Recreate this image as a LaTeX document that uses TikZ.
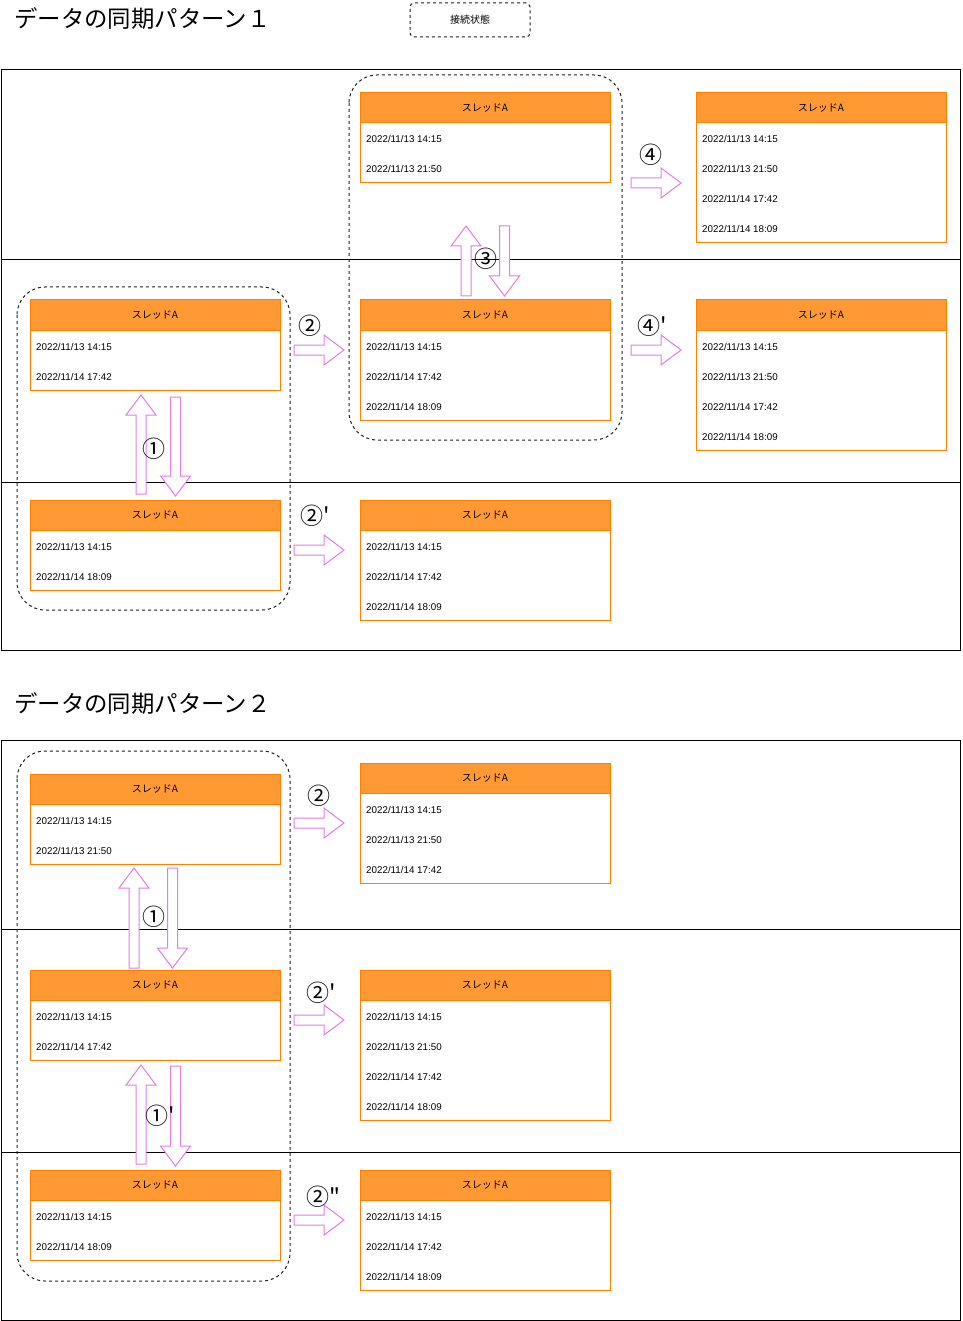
\documentclass[tikz,border=0pt]{standalone}
\usepackage{fontspec}
\setmainfont{Liberation Sans}
\newfontfamily\jpfont{Noto Sans CJK JP}
\usetikzlibrary{calc}

\definecolor{threadfill}{HTML}{FF9933}
\definecolor{threadedge}{HTML}{FF8000}
\definecolor{arrowedge}{HTML}{E27DE6}
\definecolor{groupedge}{HTML}{202020}

\tikzset{
    threadhead/.style = {draw = threadedge, fill = threadfill, line width = 1pt, minimum width = 250, minimum height = 30, inner sep = 0, outer sep = 0, font = \jpfont\fontsize{10}{12}\selectfont},
    threadbody/.style = {draw = threadedge, line width = 1pt},
    stamptext/.style = {anchor = base west, inner sep = 0, font = \fontsize{9.8}{12}\selectfont},
    framebox/.style = {draw = black, line width = 1pt},
    groupbox/.style = {draw = groupedge, line width = 1pt, dash pattern = on 3pt off 3pt, rounded corners = 28pt},
    steplabel/.style = {inner sep = 0, font = \jpfont\fontsize{23}{25}\selectfont},
    titletext/.style = {anchor = west, inner sep = 0, font = \jpfont\fontsize{23.4}{27}\selectfont},
    pics/blockarrow/.style = {code = {
        \draw[draw = arrowedge, fill = white, line width = 1pt, line join = miter] (0,-5) -- ({#1-20},-5) -- ({#1-20},-15) -- (#1,0) -- ({#1-20},15) -- ({#1-20},5) -- (0,5) -- cycle;
    }}
}

%name, top left corner, number of rows, time stamps
\newcommand{\threadtable}[4]{%
    \node[threadhead, anchor = north west] (#1) at (#2) {\raisebox{-1pt}{スレッドA}};
    \draw[threadbody] (#1.south west) rectangle ++(250,{30*#3});
    \foreach \stamp [count = \row] in {#4}
        \node[stamptext] (#1-\row) at ($(#1.south west)+(6,{30*\row-10})$) {\stamp};
}

\begin{document}
\begin{tikzpicture}[x = 1pt, y = -1pt]
    \useasboundingbox (0,0) rectangle (962,1321);

    %titles and legend
    \node[titletext] (title1) at (14,19) {データの同期パターン１};
    \node[draw = groupedge, line width = 1pt, dash pattern = on 3pt off 3pt, rounded corners = 4pt, minimum width = 120, minimum height = 34, inner sep = 0, font = \jpfont\fontsize{10}{12}\selectfont] (legend) at (470,20) {接続状態};
    \node[titletext] (title2) at (14,704) {データの同期パターン２};

    %pattern 1 frame
    \draw[framebox] (1,70) rectangle (960,650);
    \draw[framebox] (1,260) -- (960,260);
    \draw[framebox] (1,482) -- (960,482);

    %pattern 1 connection groups
    \draw[groupbox] (349,75) rectangle (622,440);
    \draw[groupbox] (17,287) rectangle (290,610);

    %pattern 1 threads
    \threadtable{pa}{360,93}{2}{2022/11/13 14:15, 2022/11/13 21:50}
    \threadtable{pb}{696,93}{4}{2022/11/13 14:15, 2022/11/13 21:50, 2022/11/14 17:42, 2022/11/14 18:09}
    \threadtable{pc}{30,300}{2}{2022/11/13 14:15, 2022/11/14 17:42}
    \threadtable{pd}{360,300}{3}{2022/11/13 14:15, 2022/11/14 17:42, 2022/11/14 18:09}
    \threadtable{pe}{696,300}{4}{2022/11/13 14:15, 2022/11/13 21:50, 2022/11/14 17:42, 2022/11/14 18:09}
    \threadtable{pf}{30,500}{2}{2022/11/13 14:15, 2022/11/14 18:09}
    \threadtable{pg}{360,500}{3}{2022/11/13 14:15, 2022/11/14 17:42, 2022/11/14 18:09}

    %pattern 1 arrows
    \pic[rotate = 90] at (141,494) {blockarrow=99};
    \pic[rotate = -90] at (175.5,397) {blockarrow=99};
    \pic at (294,350) {blockarrow=50};
    \pic at (294,550) {blockarrow=50};
    \pic[rotate = 90] at (466,296) {blockarrow=70};
    \pic[rotate = -90] at (504.5,226) {blockarrow=70};
    \pic at (631,183) {blockarrow=50};
    \pic at (631,350) {blockarrow=50};

    %pattern 1 labels
    \node[steplabel] (pl1) at (154,449) {①};
    \node[steplabel] (pl2) at (310,326) {②};
    \node[steplabel] (pl2b) at (312,516) {②\rlap{'}};
    \node[steplabel] (pl3) at (486,259) {③};
    \node[steplabel] (pl4) at (651,155) {④};
    \node[steplabel] (pl4b) at (649,326) {④\rlap{'}};

    %pattern 2 frame
    \draw[framebox] (1,740) rectangle (960,1320);
    \draw[framebox] (1,929) -- (960,929);
    \draw[framebox] (1,1152) -- (960,1152);

    %pattern 2 connection group
    \draw[groupbox] (17,751) rectangle (290,1281);

    %pattern 2 threads
    \threadtable{qa}{30,774}{2}{2022/11/13 14:15, 2022/11/13 21:50}
    \threadtable{qb}{360,763}{3}{2022/11/13 14:15, 2022/11/13 21:50, 2022/11/14 17:42}
    \threadtable{qc}{30,970}{2}{2022/11/13 14:15, 2022/11/14 17:42}
    \threadtable{qd}{360,970}{4}{2022/11/13 14:15, 2022/11/13 21:50, 2022/11/14 17:42, 2022/11/14 18:09}
    \threadtable{qe}{30,1170}{2}{2022/11/13 14:15, 2022/11/14 18:09}
    \threadtable{qf}{360,1170}{3}{2022/11/13 14:15, 2022/11/14 17:42, 2022/11/14 18:09}

    %pattern 2 arrows
    \pic[rotate = 90] at (134,968) {blockarrow=100};
    \pic[rotate = -90] at (172.5,868) {blockarrow=100};
    \pic[rotate = 90] at (141,1164) {blockarrow=99};
    \pic[rotate = -90] at (175.5,1066) {blockarrow=100};
    \pic at (294,823) {blockarrow=50};
    \pic at (294,1020) {blockarrow=50};
    \pic at (294,1220) {blockarrow=50};

    %pattern 2 labels
    \node[steplabel] (ql1) at (154,917) {①};
    \node[steplabel] (ql1b) at (157,1116) {①\rlap{'}};
    \node[steplabel] (ql2) at (319,796) {②};
    \node[steplabel] (ql2b) at (318,993) {②\rlap{'}};
    \node[steplabel] (ql2c) at (318,1197) {②\rlap{"}};
\end{tikzpicture}
\end{document}
